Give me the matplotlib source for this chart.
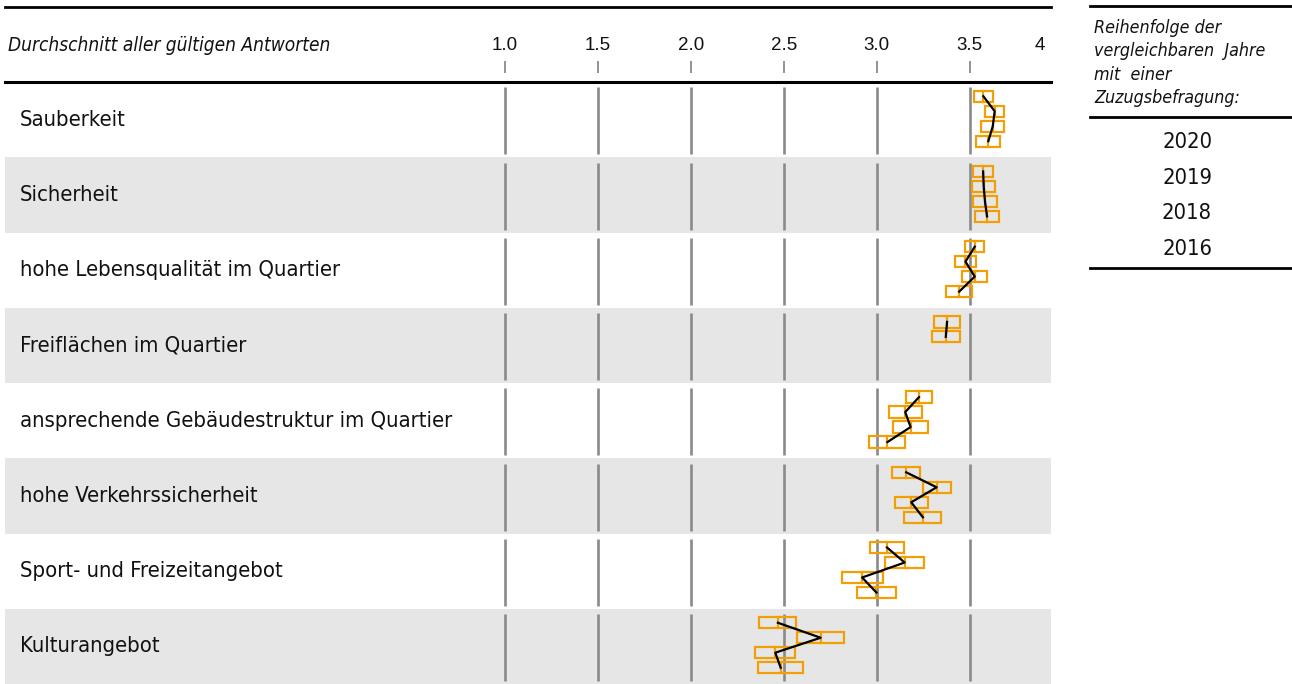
import numpy as np
import matplotlib
matplotlib.use("Agg")
import matplotlib.pyplot as plt
from matplotlib.patches import Rectangle
from matplotlib.lines import Line2D
from matplotlib import font_manager as fm

# ---------------- data ----------------
categories = [
    "Sauberkeit",
    "Sicherheit",
    "hohe Lebensqualität im Quartier",
    "Freiflächen im Quartier",
    "ansprechende Gebäudestruktur im Quartier",
    "hohe Verkehrssicherheit",
    "Sport- und Freizeitangebot",
    "Kulturangebot",
]
years = ["2020", "2019", "2018", "2016"]

mean_2020 = [3.573, 3.572, 3.527, 3.378, 3.227, 3.158, 3.055, 2.468]
mean_2019 = [3.634, 3.575, 3.477, 3.371, 3.153, 3.322, 3.150, 2.698]
mean_2018 = [3.624, 3.582, 3.527, np.nan, 3.182, 3.185, 2.921, 2.454]
mean_2016 = [3.600, 3.593, 3.443, np.nan, 3.057, 3.248, 2.998, 2.483]

half_2020 = [0.051, 0.052, 0.051, 0.070, 0.070, 0.075, 0.089, 0.100]
half_2019 = [0.051, 0.062, 0.059, 0.075, 0.089, 0.075, 0.105, 0.126]
half_2018 = [0.062, 0.067, 0.067, np.nan, 0.094, 0.089, 0.110, 0.108]
half_2016 = [0.065, 0.065, 0.070, np.nan, 0.097, 0.100, 0.105, 0.121]

tick_values = [1.0, 1.5, 2.0, 2.5, 3.0, 3.5]
tick_labels = ["1.0", "1.5", "2.0", "2.5", "3.0", "3.5"]
end_label = "4"

header_text = "Durchschnitt aller gültigen Antworten"
legend_title = ["Reihenfolge der", "vergleichbaren  Jahre", "mit  einer", "Zuzugsbefragung:"]

means = [mean_2020, mean_2019, mean_2018, mean_2016]
halves = [half_2020, half_2019, half_2018, half_2016]

# ---------------- style ----------------
W, H = 1292, 684
ORANGE = "#F29F05"
GRID = "#8a8a8a"
BAND = "#e6e6e6"
ARIAL = ["Liberation Sans", "DejaVu Sans"]

names = {(f.name, f.stretch) for f in fm.fontManager.ttflist}
all_names = {f.name for f in fm.fontManager.ttflist}
if "Liberation Sans Narrow" in all_names:
    NARROW = dict(family=["Liberation Sans Narrow", "DejaVu Sans"], stretch="normal")
elif ("DejaVu Sans", "condensed") in names or ("DejaVu Sans", "semi-condensed") in names:
    NARROW = dict(family=["DejaVu Sans"], stretch="condensed")
else:
    NARROW = dict(family=["Roboto", "DejaVu Sans"], stretch="normal")

fig = plt.figure(figsize=(W / 100, H / 100), dpi=100)
renderer = fig.canvas.get_renderer()


def fit_size(text, target_px, style="normal"):
    t = fig.text(0, 0, text, fontsize=10, style=style, **NARROW)
    w = t.get_window_extent(renderer).width
    t.remove()
    return 10.0 * target_px / w


fs_row = fit_size("Sauberkeit", 107)
fs_head = fit_size(header_text, 322, style="italic")
fs_leg = fit_size("vergleichbaren  Jahre", 170, style="italic")
fs_year = fit_size("2020", 50)

px_per_unit = 185.9
left_px, right_px = 5, 1051
x_min = 1.0 - (505 - left_px) / px_per_unit
x_max = 1.0 + (right_px - 505) / px_per_unit

ax = fig.add_axes([left_px / W, 0, (right_px - left_px) / W, (H - 7) / H])
ax.set_xlim(x_min, x_max)
n = len(categories)
ax.set_ylim(n, -1)
ax.axis("off")

# row backgrounds
for i in range(n):
    if i % 2 == 1:
        ax.axhspan(i, i + 1, color=BAND, lw=0, zorder=0)

# gridline segments in each row and header ticks
for v in tick_values:
    for i in range(n):
        ax.plot([v, v], [i + 0.07, i + 0.96], color=GRID, lw=1.9, zorder=1,
                solid_capstyle="butt")
    ax.plot([v, v], [-0.28, -0.12], color=GRID, lw=1.3, zorder=1,
            solid_capstyle="butt")

# horizontal rules
ax.axhline(-1, color="black", lw=2.0, clip_on=False, zorder=3)
ax.axhline(0, color="black", lw=2.2, clip_on=False, zorder=3)

# tick labels
for v, lab in zip(tick_values, tick_labels):
    ax.text(v, -0.49, lab, ha="center", va="center", fontsize=13.5,
            family=ARIAL, color="#111111")
ax.text(x_max - 0.03, -0.49, end_label, ha="right", va="center", fontsize=13.5,
        family=ARIAL, color="#111111")
ax.text(x_min + 3 / px_per_unit, -0.49, header_text, ha="left", va="center",
        fontsize=fs_head, style="italic", color="#111111", **NARROW)

# row labels
for i, c in enumerate(categories):
    ax.text(x_min + 15 / px_per_unit, i + 0.5, c, ha="left", va="center",
            fontsize=fs_row, color="#111111", **NARROW)

# boxes + connecting lines
offsets = [0.186, 0.385, 0.584, 0.784]
box_h = 0.15
for i in range(n):
    xs, ys = [], []
    for k in range(len(years)):
        m = means[k][i]
        h = halves[k][i]
        if np.isnan(m):
            continue
        y = i + offsets[k]
        ax.add_patch(Rectangle((m - h, y - box_h / 2), 2 * h, box_h,
                               facecolor="none", edgecolor=ORANGE, lw=1.6,
                               zorder=4))
        ax.plot([m, m], [y - box_h / 2, y + box_h / 2], color=ORANGE, lw=1.6,
                zorder=4)
        xs.append(m)
        ys.append(y)
    ax.plot(xs, ys, color="black", lw=1.6, zorder=5)

# legend panel on the right
def fx(x):
    return x / W


def fy(y):
    return 1 - y / H


for yy in (6, 117, 268):
    fig.add_artist(Line2D([fx(1090), fx(1292)], [fy(yy), fy(yy)],
                          color="black", lw=2.0))
for j, line in enumerate(legend_title):
    fig.text(fx(1094), fy(28 + 23.3 * j), line, ha="left", va="center",
             fontsize=fs_leg, style="italic", color="#111111", **NARROW)
for j, yr in enumerate(years):
    fig.text(fx(1187), fy(142 + 35.7 * j), yr, ha="center", va="center",
             fontsize=fs_year, color="#111111", **NARROW)

fig.savefig("out.png", dpi=100)
